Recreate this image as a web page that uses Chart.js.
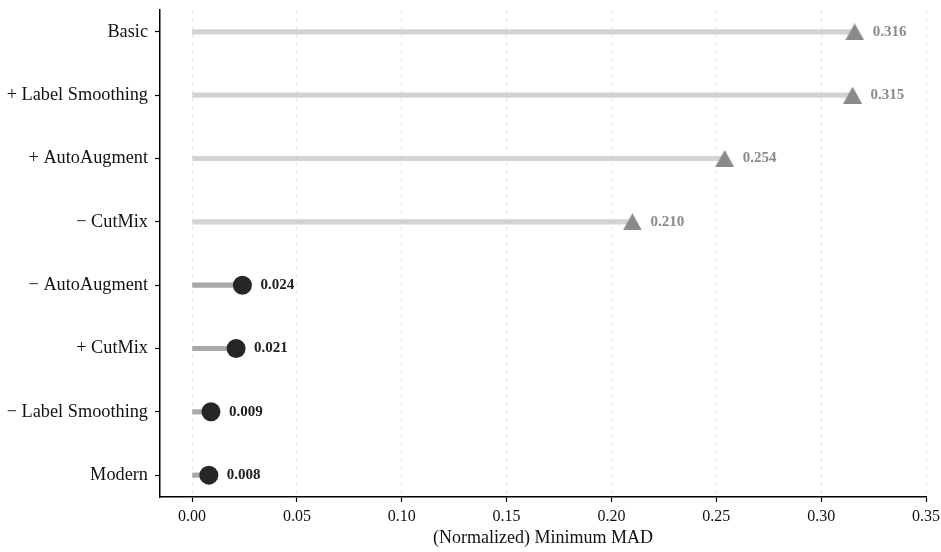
<!DOCTYPE html>
<html>
<head>
<meta charset="utf-8">
<script src="https://cdn.jsdelivr.net/npm/chart.js@4.4.1/dist/chart.umd.min.js"></script>
<style>
  html, body { margin: 0; padding: 0; background: #fff; }
  #wrap { width: 941px; height: 552px; position: relative; }
</style>
</head>
<body>
<div id="wrap"><canvas id="madChart"></canvas></div>
<script>
// rows, top to bottom
const categories = ['Basic', '+ Label Smoothing', '+ AutoAugment', '\u2212 CutMix',
                    '\u2212 AutoAugment', '+ CutMix', '\u2212 Label Smoothing', 'Modern'];
// gray triangles (first four rows), black dots (last four rows)
const triangleValues = [0.316, 0.315, 0.254, 0.210, null, null, null, null];
const circleValues = [null, null, null, null, 0.024, 0.021, 0.009, 0.008];
const xTicks = [0.00, 0.05, 0.10, 0.15, 0.20, 0.25, 0.30, 0.35];

const SERIF = "'Liberation Serif', 'Times New Roman', serif";
Chart.defaults.font.family = SERIF;
Chart.defaults.color = '#111';

// triangle centred on its bounding box, like a matplotlib '^'
function makeTriangle(w, h, color) {
  const c = document.createElement('canvas');
  c.width = w; c.height = h;
  const g = c.getContext('2d');
  g.fillStyle = color;
  g.beginPath();
  g.moveTo(w / 2, 0);
  g.lineTo(w, h);
  g.lineTo(0, h);
  g.closePath();
  g.fill();
  return c;
}
const triMarker = makeTriangle(19, 17, '#8a8a8a');

const stems = categories.map((c, i) => ({
  y: i,
  x: triangleValues[i] != null ? triangleValues[i] : circleValues[i]
}));
const stemColors = categories.map((c, i) => triangleValues[i] != null ? '#d3d3d3' : '#a9a9a9');

const toPoints = arr => arr.map((v, i) => v == null ? null : { x: v, y: i }).filter(p => p);

// value labels right of each marker
const valueLabels = {
  id: 'valueLabels',
  afterDatasetsDraw(chart) {
    const ctx = chart.ctx;
    ctx.save();
    ctx.font = 'bold 15px ' + SERIF;
    ctx.textAlign = 'left';
    ctx.textBaseline = 'middle';
    chart.data.datasets.forEach((ds, di) => {
      if (!ds.labelColor) return;
      const meta = chart.getDatasetMeta(di);
      meta.data.forEach((pt, j) => {
        ctx.fillStyle = ds.labelColor;
        ctx.fillText(ds.data[j].x.toFixed(3), pt.x + 18, pt.y);
      });
    });
    ctx.restore();
  }
};

const madChart = new Chart(document.querySelector('#madChart'), {
  type: 'bar',
  data: {
    datasets: [
      {
        type: 'scatter',
        data: toPoints(triangleValues),
        pointStyle: triMarker,
        pointRadius: 9,
        pointHoverRadius: 9,
        labelColor: '#8a8a8a',
        order: 1
      },
      {
        type: 'scatter',
        data: toPoints(circleValues),
        pointStyle: 'circle',
        pointRadius: 9.5,
        pointHoverRadius: 9.5,
        backgroundColor: '#262626',
        borderWidth: 0,
        labelColor: '#222',
        order: 1
      },
      {
        type: 'bar',
        indexAxis: 'y',
        data: stems,
        backgroundColor: stemColors,
        barThickness: 4.5,
        order: 2
      }
    ]
  },
  options: {
    responsive: true,
    maintainAspectRatio: false,
    animation: false,
    layout: { padding: { top: 5, right: 15, bottom: 0, left: 0 } },
    plugins: {
      legend: { display: false },
      tooltip: { enabled: false }
    },
    scales: {
      x: {
        type: 'linear',
        offset: false,
        min: -0.0153,
        max: 0.35,
        afterBuildTicks: axis => { axis.ticks = xTicks.map(v => ({ value: v })); },
        afterFit: axis => { axis.height = 55; axis.paddingLeft = 0; axis.paddingRight = 0; },
        ticks: {
          font: { size: 16 },
          color: '#111',
          padding: 5,
          maxRotation: 0,
          callback: v => v.toFixed(2)
        },
        grid: {
          offset: false,
          color: '#e8e8e8',
          lineWidth: 1,
          tickColor: '#000',
          tickLength: 5,
          tickWidth: 1.2
        },
        border: { color: '#000', width: 1.5, dash: [4, 4] },
        title: {
          display: true,
          text: '(Normalized) Minimum MAD',
          font: { size: 18 },
          color: '#111',
          padding: { top: 0, bottom: 3 }
        }
      },
      y: {
        type: 'linear',
        offset: false,
        reverse: true,
        min: -0.345,
        max: 7.345,
        afterBuildTicks: axis => { axis.ticks = categories.map((c, i) => ({ value: i })); },
        afterFit: axis => { axis.width = 160; axis.paddingTop = 0; axis.paddingBottom = 0; },
        ticks: {
          font: { size: 18.3 },
          color: '#111',
          padding: 7,
          callback: v => categories[v]
        },
        grid: {
          offset: false,
          drawOnChartArea: false,
          tickColor: '#000',
          tickLength: 5,
          tickWidth: 1.2
        },
        border: { color: '#000', width: 1.5 }
      }
    }
  },
  plugins: [valueLabels]
});
</script>
</body>
</html>
